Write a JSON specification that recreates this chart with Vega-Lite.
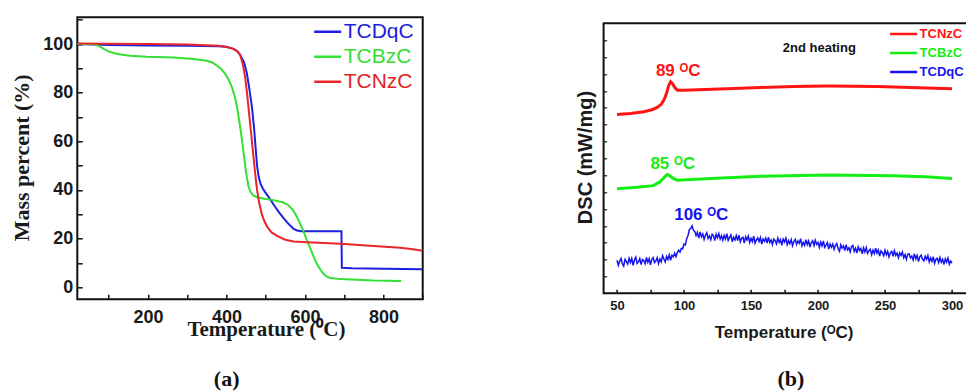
{
"$schema": "https://vega.github.io/schema/vega-lite/v6.json",
"autosize": {"type": "none"},
"padding": {"left": 77.3, "top": 17.3, "right": 888.7, "bottom": 374.7},
"background": "white",
"bounds": "flush",
"center": true,
"spacing": 180.3,
"config": {"font": "Liberation Sans", "view": {"stroke": "#111", "strokeWidth": 2},
  "axis": {"grid": false, "domain": false, "labelFlush": false, "labelOverlap": false, "tickColor": "#111", "labelColor": "#1a1a1a", "titleColor": "#1a1a1a", "labelLimit": 500, "titleLimit": 1000},
  "legend": {"padding": 0, "labelLimit": 500}},
"resolve": {"scale": {"color": "independent"}},
"datasets": {
"tga": [
{"s":"TCDqC","t":20,"v":100},{"s":"TCDqC","t":60,"v":99.8},{"s":"TCDqC","t":100,"v":99.6},{"s":"TCDqC","t":200,"v":99.4},{"s":"TCDqC","t":300,"v":99.3},{"s":"TCDqC","t":380,"v":99.1},{"s":"TCDqC","t":400,"v":98.9},{"s":"TCDqC","t":418,"v":98},{"s":"TCDqC","t":428,"v":97},{"s":"TCDqC","t":435,"v":95.5},{"s":"TCDqC","t":445,"v":92.5},{"s":"TCDqC","t":452,"v":88},{"s":"TCDqC","t":458,"v":82},{"s":"TCDqC","t":465,"v":74},{"s":"TCDqC","t":470,"v":66},{"s":"TCDqC","t":474,"v":58},{"s":"TCDqC","t":478,"v":50},{"s":"TCDqC","t":482,"v":45.5},{"s":"TCDqC","t":487,"v":42.5},{"s":"TCDqC","t":493,"v":40.5},{"s":"TCDqC","t":499,"v":39},{"s":"TCDqC","t":510,"v":36.5},{"s":"TCDqC","t":520,"v":34},{"s":"TCDqC","t":533,"v":31},{"s":"TCDqC","t":545,"v":28.5},{"s":"TCDqC","t":558,"v":26},{"s":"TCDqC","t":571,"v":24},{"s":"TCDqC","t":580,"v":23.3},{"s":"TCDqC","t":590,"v":23},{"s":"TCDqC","t":650,"v":23},{"s":"TCDqC","t":693,"v":23},{"s":"TCDqC","t":694,"v":8},{"s":"TCDqC","t":720,"v":7.8},{"s":"TCDqC","t":800,"v":7.6},{"s":"TCDqC","t":900,"v":7.4},
{"s":"TCBzC","t":20,"v":100},{"s":"TCBzC","t":62,"v":100},{"s":"TCBzC","t":75,"v":99.2},{"s":"TCBzC","t":87,"v":98},{"s":"TCBzC","t":100,"v":97},{"s":"TCBzC","t":112,"v":96.3},{"s":"TCBzC","t":130,"v":95.7},{"s":"TCBzC","t":155,"v":95.2},{"s":"TCBzC","t":197,"v":94.8},{"s":"TCBzC","t":265,"v":94.5},{"s":"TCBzC","t":316,"v":93.8},{"s":"TCBzC","t":350,"v":93.1},{"s":"TCBzC","t":365,"v":92.3},{"s":"TCBzC","t":376,"v":91.1},{"s":"TCBzC","t":387,"v":89.6},{"s":"TCBzC","t":397,"v":87.7},{"s":"TCBzC","t":406,"v":85.2},{"s":"TCBzC","t":414,"v":82.2},{"s":"TCBzC","t":421,"v":78.5},{"s":"TCBzC","t":427,"v":74},{"s":"TCBzC","t":431,"v":70},{"s":"TCBzC","t":435,"v":65.8},{"s":"TCBzC","t":440,"v":60},{"s":"TCBzC","t":444,"v":54.8},{"s":"TCBzC","t":448,"v":49.5},{"s":"TCBzC","t":452,"v":45.2},{"s":"TCBzC","t":456,"v":41.5},{"s":"TCBzC","t":461,"v":39.3},{"s":"TCBzC","t":468,"v":37.8},{"s":"TCBzC","t":477,"v":37},{"s":"TCBzC","t":500,"v":36.3},{"s":"TCBzC","t":520,"v":35.8},{"s":"TCBzC","t":545,"v":34.8},{"s":"TCBzC","t":557,"v":33.8},{"s":"TCBzC","t":567,"v":32.2},{"s":"TCBzC","t":576,"v":30},{"s":"TCBzC","t":584,"v":27.4},{"s":"TCBzC","t":595,"v":23.5},{"s":"TCBzC","t":605,"v":19.2},{"s":"TCBzC","t":616,"v":15},{"s":"TCBzC","t":626,"v":11},{"s":"TCBzC","t":636,"v":8},{"s":"TCBzC","t":647,"v":5.5},{"s":"TCBzC","t":656,"v":4.3},{"s":"TCBzC","t":664,"v":3.8},{"s":"TCBzC","t":690,"v":3.3},{"s":"TCBzC","t":775,"v":2.7},{"s":"TCBzC","t":845,"v":2.5},
{"s":"TCNzC","t":20,"v":100.2},{"s":"TCNzC","t":100,"v":100.1},{"s":"TCNzC","t":200,"v":100},{"s":"TCNzC","t":300,"v":99.8},{"s":"TCNzC","t":380,"v":99.3},{"s":"TCNzC","t":400,"v":98.8},{"s":"TCNzC","t":418,"v":98},{"s":"TCNzC","t":428,"v":97},{"s":"TCNzC","t":435,"v":95.5},{"s":"TCNzC","t":442,"v":91.5},{"s":"TCNzC","t":448,"v":86},{"s":"TCNzC","t":453,"v":79},{"s":"TCNzC","t":458,"v":71},{"s":"TCNzC","t":463,"v":63},{"s":"TCNzC","t":468,"v":55},{"s":"TCNzC","t":473,"v":47},{"s":"TCNzC","t":478,"v":40},{"s":"TCNzC","t":483,"v":35},{"s":"TCNzC","t":490,"v":30},{"s":"TCNzC","t":497,"v":27},{"s":"TCNzC","t":505,"v":24.5},{"s":"TCNzC","t":515,"v":22.5},{"s":"TCNzC","t":530,"v":21},{"s":"TCNzC","t":550,"v":19.5},{"s":"TCNzC","t":571,"v":18.8},{"s":"TCNzC","t":605,"v":18.5},{"s":"TCNzC","t":690,"v":17.9},{"s":"TCNzC","t":775,"v":16.9},{"s":"TCNzC","t":843,"v":16.2},{"s":"TCNzC","t":870,"v":15.7},{"s":"TCNzC","t":900,"v":15}
],
"dsc": [
{"s":"TCNzC","t":50,"v":10.6},{"s":"TCNzC","t":60,"v":10.66},{"s":"TCNzC","t":70,"v":10.76},{"s":"TCNzC","t":76,"v":10.88},{"s":"TCNzC","t":80,"v":11.01},{"s":"TCNzC","t":83,"v":11.2},{"s":"TCNzC","t":85,"v":11.45},{"s":"TCNzC","t":87,"v":11.85},{"s":"TCNzC","t":88.5,"v":12.3},{"s":"TCNzC","t":90,"v":12.54},{"s":"TCNzC","t":91.5,"v":12.42},{"s":"TCNzC","t":93,"v":12.2},{"s":"TCNzC","t":95,"v":12.04},{"s":"TCNzC","t":100,"v":12.04},{"s":"TCNzC","t":132,"v":12.12},{"s":"TCNzC","t":157,"v":12.2},{"s":"TCNzC","t":182,"v":12.26},{"s":"TCNzC","t":207,"v":12.28},{"s":"TCNzC","t":244,"v":12.26},{"s":"TCNzC","t":269,"v":12.2},{"s":"TCNzC","t":300,"v":12.12},
{"s":"TCBzC","t":50,"v":6.2},{"s":"TCBzC","t":65,"v":6.28},{"s":"TCBzC","t":77,"v":6.38},{"s":"TCBzC","t":82,"v":6.6},{"s":"TCBzC","t":85,"v":6.85},{"s":"TCBzC","t":87.5,"v":7.05},{"s":"TCBzC","t":89.5,"v":6.95},{"s":"TCBzC","t":92,"v":6.8},{"s":"TCBzC","t":95,"v":6.7},{"s":"TCBzC","t":120,"v":6.8},{"s":"TCBzC","t":157,"v":6.93},{"s":"TCBzC","t":207,"v":7.01},{"s":"TCBzC","t":256,"v":6.97},{"s":"TCBzC","t":280,"v":6.9},{"s":"TCBzC","t":300,"v":6.8},
{"s":"TCDqC","t":50,"v":1.96},{"s":"TCDqC","t":51,"v":1.66},{"s":"TCDqC","t":52,"v":1.9},{"s":"TCDqC","t":53,"v":2.07},{"s":"TCDqC","t":54,"v":1.75},{"s":"TCDqC","t":55,"v":1.61},{"s":"TCDqC","t":56,"v":2.01},{"s":"TCDqC","t":57,"v":1.88},{"s":"TCDqC","t":58,"v":1.73},{"s":"TCDqC","t":59,"v":2.07},
{"s":"TCDqC","t":60,"v":1.82},{"s":"TCDqC","t":61,"v":2.06},{"s":"TCDqC","t":62,"v":1.66},{"s":"TCDqC","t":63,"v":1.96},{"s":"TCDqC","t":64,"v":2.14},{"s":"TCDqC","t":65,"v":1.77},{"s":"TCDqC","t":66,"v":1.86},{"s":"TCDqC","t":67,"v":2.06},{"s":"TCDqC","t":68,"v":1.7},{"s":"TCDqC","t":69,"v":2.0},
{"s":"TCDqC","t":70,"v":1.95},{"s":"TCDqC","t":71,"v":1.75},{"s":"TCDqC","t":72,"v":2.12},{"s":"TCDqC","t":73,"v":1.84},{"s":"TCDqC","t":74,"v":2.05},{"s":"TCDqC","t":75,"v":1.68},{"s":"TCDqC","t":76,"v":2.02},{"s":"TCDqC","t":77,"v":2.12},{"s":"TCDqC","t":78,"v":1.82},{"s":"TCDqC","t":79,"v":1.92},
{"s":"TCDqC","t":80,"v":2.11},{"s":"TCDqC","t":81,"v":1.76},{"s":"TCDqC","t":82,"v":2.03},{"s":"TCDqC","t":83,"v":1.86},{"s":"TCDqC","t":84,"v":2.23},{"s":"TCDqC","t":85,"v":2.03},{"s":"TCDqC","t":86,"v":1.86},{"s":"TCDqC","t":87,"v":2.19},{"s":"TCDqC","t":88,"v":2.0},{"s":"TCDqC","t":89,"v":2.28},
{"s":"TCDqC","t":90,"v":1.95},{"s":"TCDqC","t":91,"v":2.25},{"s":"TCDqC","t":92,"v":2.16},{"s":"TCDqC","t":93,"v":2.38},{"s":"TCDqC","t":94,"v":2.17},{"s":"TCDqC","t":95,"v":2.41},{"s":"TCDqC","t":96,"v":2.56},{"s":"TCDqC","t":97,"v":2.44},{"s":"TCDqC","t":98,"v":2.66},{"s":"TCDqC","t":99,"v":2.64},
{"s":"TCDqC","t":100,"v":2.91},{"s":"TCDqC","t":101,"v":2.87},{"s":"TCDqC","t":102,"v":3.24},{"s":"TCDqC","t":103,"v":3.42},{"s":"TCDqC","t":104,"v":3.78},{"s":"TCDqC","t":105,"v":3.84},{"s":"TCDqC","t":106,"v":4.0},{"s":"TCDqC","t":107,"v":3.73},{"s":"TCDqC","t":108,"v":3.67},{"s":"TCDqC","t":109,"v":3.42},
{"s":"TCDqC","t":110,"v":3.61},{"s":"TCDqC","t":111,"v":3.27},{"s":"TCDqC","t":112,"v":3.64},{"s":"TCDqC","t":113,"v":3.35},{"s":"TCDqC","t":114,"v":3.52},{"s":"TCDqC","t":115,"v":3.19},{"s":"TCDqC","t":116,"v":3.44},{"s":"TCDqC","t":117,"v":3.59},{"s":"TCDqC","t":118,"v":3.25},{"s":"TCDqC","t":119,"v":3.39},
{"s":"TCDqC","t":120,"v":3.18},{"s":"TCDqC","t":121,"v":3.5},{"s":"TCDqC","t":122,"v":3.42},{"s":"TCDqC","t":123,"v":3.12},{"s":"TCDqC","t":124,"v":3.5},{"s":"TCDqC","t":125,"v":3.29},{"s":"TCDqC","t":126,"v":3.54},{"s":"TCDqC","t":127,"v":3.21},{"s":"TCDqC","t":128,"v":3.41},{"s":"TCDqC","t":129,"v":3.14},
{"s":"TCDqC","t":130,"v":3.43},{"s":"TCDqC","t":131,"v":3.22},{"s":"TCDqC","t":132,"v":3.53},{"s":"TCDqC","t":133,"v":3.14},{"s":"TCDqC","t":134,"v":3.31},{"s":"TCDqC","t":135,"v":3.46},{"s":"TCDqC","t":136,"v":3.05},{"s":"TCDqC","t":137,"v":3.32},{"s":"TCDqC","t":138,"v":3.16},{"s":"TCDqC","t":139,"v":3.42},
{"s":"TCDqC","t":140,"v":3.12},{"s":"TCDqC","t":141,"v":3.45},{"s":"TCDqC","t":142,"v":3.05},{"s":"TCDqC","t":143,"v":3.26},{"s":"TCDqC","t":144,"v":3.32},{"s":"TCDqC","t":145,"v":2.97},{"s":"TCDqC","t":146,"v":3.35},{"s":"TCDqC","t":147,"v":3.16},{"s":"TCDqC","t":148,"v":3.39},{"s":"TCDqC","t":149,"v":3.02},
{"s":"TCDqC","t":150,"v":3.25},{"s":"TCDqC","t":151,"v":3.06},{"s":"TCDqC","t":152,"v":3.39},{"s":"TCDqC","t":153,"v":2.97},{"s":"TCDqC","t":154,"v":3.16},{"s":"TCDqC","t":155,"v":3.28},{"s":"TCDqC","t":156,"v":3.07},{"s":"TCDqC","t":157,"v":3.31},{"s":"TCDqC","t":158,"v":2.92},{"s":"TCDqC","t":159,"v":3.22},
{"s":"TCDqC","t":160,"v":3.08},{"s":"TCDqC","t":161,"v":3.27},{"s":"TCDqC","t":162,"v":2.98},{"s":"TCDqC","t":163,"v":3.32},{"s":"TCDqC","t":164,"v":3.01},{"s":"TCDqC","t":165,"v":3.16},{"s":"TCDqC","t":166,"v":2.89},{"s":"TCDqC","t":167,"v":3.21},{"s":"TCDqC","t":168,"v":3.12},{"s":"TCDqC","t":169,"v":2.93},
{"s":"TCDqC","t":170,"v":3.27},{"s":"TCDqC","t":171,"v":3.01},{"s":"TCDqC","t":172,"v":3.18},{"s":"TCDqC","t":173,"v":2.84},{"s":"TCDqC","t":174,"v":3.21},{"s":"TCDqC","t":175,"v":3.04},{"s":"TCDqC","t":176,"v":3.27},{"s":"TCDqC","t":177,"v":2.88},{"s":"TCDqC","t":178,"v":3.12},{"s":"TCDqC","t":179,"v":2.94},
{"s":"TCDqC","t":180,"v":3.18},{"s":"TCDqC","t":181,"v":2.82},{"s":"TCDqC","t":182,"v":3.07},{"s":"TCDqC","t":183,"v":3.2},{"s":"TCDqC","t":184,"v":2.9},{"s":"TCDqC","t":185,"v":3.1},{"s":"TCDqC","t":186,"v":2.96},{"s":"TCDqC","t":187,"v":3.24},{"s":"TCDqC","t":188,"v":2.81},{"s":"TCDqC","t":189,"v":3.01},
{"s":"TCDqC","t":190,"v":2.84},{"s":"TCDqC","t":191,"v":3.18},{"s":"TCDqC","t":192,"v":2.89},{"s":"TCDqC","t":193,"v":3.1},{"s":"TCDqC","t":194,"v":2.74},{"s":"TCDqC","t":195,"v":3.01},{"s":"TCDqC","t":196,"v":3.12},{"s":"TCDqC","t":197,"v":2.83},{"s":"TCDqC","t":198,"v":3.15},{"s":"TCDqC","t":199,"v":2.9},
{"s":"TCDqC","t":200,"v":3.01},{"s":"TCDqC","t":201,"v":2.72},{"s":"TCDqC","t":202,"v":3.04},{"s":"TCDqC","t":203,"v":2.81},{"s":"TCDqC","t":204,"v":3.1},{"s":"TCDqC","t":205,"v":2.73},{"s":"TCDqC","t":206,"v":2.86},{"s":"TCDqC","t":207,"v":3.01},{"s":"TCDqC","t":208,"v":2.62},{"s":"TCDqC","t":209,"v":2.92},
{"s":"TCDqC","t":210,"v":2.74},{"s":"TCDqC","t":211,"v":2.92},{"s":"TCDqC","t":212,"v":2.6},{"s":"TCDqC","t":213,"v":2.84},{"s":"TCDqC","t":214,"v":2.95},{"s":"TCDqC","t":215,"v":2.64},{"s":"TCDqC","t":216,"v":2.49},{"s":"TCDqC","t":217,"v":2.87},{"s":"TCDqC","t":218,"v":2.68},{"s":"TCDqC","t":219,"v":2.81},
{"s":"TCDqC","t":220,"v":2.53},{"s":"TCDqC","t":221,"v":2.88},{"s":"TCDqC","t":222,"v":2.57},{"s":"TCDqC","t":223,"v":2.7},{"s":"TCDqC","t":224,"v":2.46},{"s":"TCDqC","t":225,"v":2.76},{"s":"TCDqC","t":226,"v":2.84},{"s":"TCDqC","t":227,"v":2.49},{"s":"TCDqC","t":228,"v":2.67},{"s":"TCDqC","t":229,"v":2.39},
{"s":"TCDqC","t":230,"v":2.75},{"s":"TCDqC","t":231,"v":2.53},{"s":"TCDqC","t":232,"v":2.66},{"s":"TCDqC","t":233,"v":2.34},{"s":"TCDqC","t":234,"v":2.69},{"s":"TCDqC","t":235,"v":2.45},{"s":"TCDqC","t":236,"v":2.71},{"s":"TCDqC","t":237,"v":2.37},{"s":"TCDqC","t":238,"v":2.53},{"s":"TCDqC","t":239,"v":2.61},
{"s":"TCDqC","t":240,"v":2.29},{"s":"TCDqC","t":241,"v":2.55},{"s":"TCDqC","t":242,"v":2.35},{"s":"TCDqC","t":243,"v":2.68},{"s":"TCDqC","t":244,"v":2.38},{"s":"TCDqC","t":245,"v":2.57},{"s":"TCDqC","t":246,"v":2.2},{"s":"TCDqC","t":247,"v":2.51},{"s":"TCDqC","t":248,"v":2.41},{"s":"TCDqC","t":249,"v":2.23},
{"s":"TCDqC","t":250,"v":2.56},{"s":"TCDqC","t":251,"v":2.28},{"s":"TCDqC","t":252,"v":2.48},{"s":"TCDqC","t":253,"v":2.15},{"s":"TCDqC","t":254,"v":2.4},{"s":"TCDqC","t":255,"v":2.49},{"s":"TCDqC","t":256,"v":2.19},{"s":"TCDqC","t":257,"v":2.52},{"s":"TCDqC","t":258,"v":2.25},{"s":"TCDqC","t":259,"v":2.38},
{"s":"TCDqC","t":260,"v":2.11},{"s":"TCDqC","t":261,"v":2.4},{"s":"TCDqC","t":262,"v":2.24},{"s":"TCDqC","t":263,"v":2.44},{"s":"TCDqC","t":264,"v":2.1},{"s":"TCDqC","t":265,"v":2.3},{"s":"TCDqC","t":266,"v":2.01},{"s":"TCDqC","t":267,"v":2.32},{"s":"TCDqC","t":268,"v":2.34},{"s":"TCDqC","t":269,"v":2.1},
{"s":"TCDqC","t":270,"v":2.21},{"s":"TCDqC","t":271,"v":1.98},{"s":"TCDqC","t":272,"v":2.35},{"s":"TCDqC","t":273,"v":2.04},{"s":"TCDqC","t":274,"v":2.24},{"s":"TCDqC","t":275,"v":1.88},{"s":"TCDqC","t":276,"v":2.18},{"s":"TCDqC","t":277,"v":2.26},{"s":"TCDqC","t":278,"v":2.02},{"s":"TCDqC","t":279,"v":1.92},
{"s":"TCDqC","t":280,"v":2.2},{"s":"TCDqC","t":281,"v":2.01},{"s":"TCDqC","t":282,"v":2.24},{"s":"TCDqC","t":283,"v":1.86},{"s":"TCDqC","t":284,"v":2.1},{"s":"TCDqC","t":285,"v":1.89},{"s":"TCDqC","t":286,"v":2.17},{"s":"TCDqC","t":287,"v":1.78},{"s":"TCDqC","t":288,"v":2.02},{"s":"TCDqC","t":289,"v":2.08},
{"s":"TCDqC","t":290,"v":1.82},{"s":"TCDqC","t":291,"v":2.12},{"s":"TCDqC","t":292,"v":1.85},{"s":"TCDqC","t":293,"v":2.01},{"s":"TCDqC","t":294,"v":1.71},{"s":"TCDqC","t":295,"v":2.04},{"s":"TCDqC","t":296,"v":1.85},{"s":"TCDqC","t":297,"v":2.09},{"s":"TCDqC","t":298,"v":1.72},{"s":"TCDqC","t":299,"v":1.91},
{"s":"TCDqC","t":300,"v":1.79}
],
"ann": [
{"s":"TCNzC","label":"89 ᴼC","t":95.7,"v":12.88},
{"s":"TCBzC","label":"85 ᴼC","t":91.6,"v":7.39},
{"s":"TCDqC","label":"106 ᴼC","t":112.9,"v":4.36}
]
},
"hconcat": [
{
 "width": 345.4, "height": 282,
 "title": {"text": "(a)", "orient": "bottom", "anchor": "middle", "font": "Liberation Serif", "fontSize": 22, "fontWeight": "bold", "color": "#111", "dx": -23.3, "offset": 29},
 "data": {"name": "tga"},
 "mark": {"type": "line", "strokeWidth": 2, "clip": true},
 "encoding": {
  "x": {"field": "t", "type": "quantitative", "scale": {"domain": [20, 900], "nice": false, "zero": false},
   "axis": {"values": [100,200,300,400,500,600,700,800,900], "labelExpr": "datum.value % 200 == 0 ? datum.label : ''", "tickSize": -5, "tickWidth": 1.5, "labelFontSize": 18, "labelFontWeight": "bold", "labelPadding": 14.4,
    "title": "Temperature (⁰C)", "titleFont": "Liberation Serif", "titleFontSize": 21, "titleFontWeight": "bold", "titleX": 188.7, "titleY": 36.5, "titleBaseline": "alphabetic", "titleAlign": "center"}},
  "y": {"field": "v", "type": "quantitative", "scale": {"domain": [-5, 111], "nice": false, "zero": false},
   "axis": {"values": [0,10,20,30,40,50,60,70,80,90,100,110], "labelExpr": "datum.value % 20 == 0 ? datum.label : ''", "tickSize": -5, "tickWidth": 1.5, "labelFontSize": 18, "labelFontWeight": "bold", "labelPadding": 9.6,
    "title": "Mass percent (%)", "titleFont": "Liberation Serif", "titleFontSize": 22, "titleFontWeight": "bold", "titleAngle": -90, "titleX": -55.6, "titleY": 140, "titleBaseline": "middle", "titleAlign": "center"}},
  "color": {"field": "s", "type": "nominal", "scale": {"domain": ["TCDqC","TCBzC","TCNzC"], "range": ["#1f1fe0","#33e033","#e8252a"]},
   "legend": {"orient": "none", "legendX": 235.4, "legendY": 1.9, "title": null, "symbolType": "stroke", "symbolSize": 729, "symbolStrokeWidth": 2.5, "labelFontSize": 21, "labelOffset": 1, "rowPadding": 0, "clipHeight": 25,
    "encode": {"labels": {"update": {"fill": {"signal": "datum.value == 'TCDqC' ? '#2020d8' : datum.value == 'TCBzC' ? '#33dd33' : '#e02424'"}}}}}}
 }
},
{
 "width": 368.5, "height": 270,
 "title": {"text": "(b)", "orient": "bottom", "anchor": "middle", "font": "Liberation Serif", "fontSize": 22, "fontWeight": "bold", "color": "#111", "dx": 3, "offset": 29},
 "encoding": {
  "x": {"field": "t", "type": "quantitative", "scale": {"domain": [40, 315], "nice": false, "zero": false},
   "axis": {"values": [50,75,100,125,150,175,200,225,250,275,300], "labelExpr": "datum.value % 50 == 0 ? datum.label : ''", "tickSize": -4, "tickWidth": 1.5, "labelFontSize": 13, "labelFontWeight": "bold", "labelPadding": 10.4,
    "title": "Temperature (ᴼC)", "titleFontSize": 17, "titleFontWeight": "bold", "titleX": 180, "titleY": 43.7, "titleBaseline": "alphabetic", "titleAlign": "center"}},
  "y": {"field": "v", "type": "quantitative", "scale": {"domain": [0, 16], "nice": false, "zero": false},
   "axis": {"values": [1,2,3,4,5,6,7,8,9,10,11,12,13,14,15], "labels": false, "tickSize": -3, "tickWidth": 1.2,
    "title": "DSC (mW/mg)", "titleFontSize": 20, "titleFontWeight": "bold", "titleAngle": -90, "titleX": -18.5, "titleY": 133.7, "titleBaseline": "middle", "titleAlign": "center"}}
 },
 "layer": [
  {"data": {"name": "dsc"}, "transform": [{"filter": "datum.s != 'TCDqC'"}], "mark": {"type": "line", "strokeWidth": 3, "clip": true},
   "encoding": {"color": {"field": "s", "type": "nominal", "scale": {"domain": ["TCNzC","TCBzC","TCDqC"], "range": ["#ff1414","#14ee14","#1414f0"]},
    "legend": {"orient": "none", "legendX": 285, "legendY": 1.2, "title": null, "symbolType": "stroke", "symbolSize": 729, "symbolStrokeWidth": 2.6, "labelFontSize": 13, "labelFontWeight": "bold", "labelOffset": 1, "rowPadding": 0, "clipHeight": 19,
     "encode": {"labels": {"update": {"fill": {"signal": "datum.value == 'TCNzC' ? '#ff1414' : datum.value == 'TCBzC' ? '#14ee14' : '#1414f0'"}}}}}}}},
  {"data": {"name": "dsc"}, "transform": [{"filter": "datum.s == 'TCDqC'"}], "mark": {"type": "line", "strokeWidth": 1.5, "clip": true},
   "encoding": {"color": {"field": "s", "type": "nominal"}}},
  {"data": {"name": "ann"}, "mark": {"type": "text", "fontSize": 17, "fontWeight": "bold", "baseline": "alphabetic", "align": "center"},
   "encoding": {"text": {"field": "label"}, "color": {"field": "s", "type": "nominal", "legend": null}}},
  {"data": {"values": [{"label": "2nd heating", "t": 201, "v": 14.32}]}, "mark": {"type": "text", "fontSize": 13, "fontWeight": "bold", "color": "#111", "baseline": "alphabetic", "align": "center"},
   "encoding": {"text": {"field": "label"}}}
 ]
}
]
}
